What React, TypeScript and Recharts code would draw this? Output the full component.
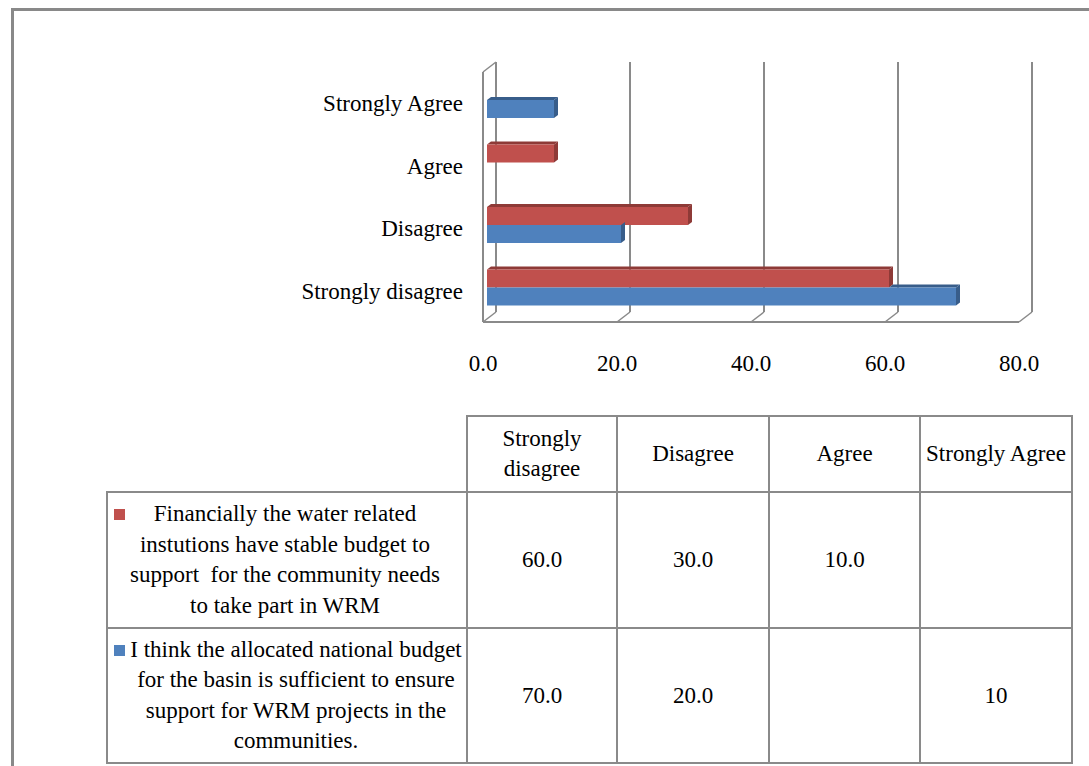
import { Bar, BarChart, CartesianGrid, XAxis, YAxis } from "recharts";

const FONT = '"Liberation Serif", "Times New Roman", serif';

// response categories, in the order of the data table
const categories = ["Strongly disagree", "Disagree", "Agree", "Strongly Agree"];

// table cells as printed; the bars are drawn from these same numbers
const stableBudget = ["60.0", "30.0", "10.0", ""];
const sufficientBudget = ["70.0", "20.0", "", "10"];

const seriesLabels = [
  [
    "Financially the water related",
    "instutions have stable budget to",
    "support  for the community needs",
    "to take part in WRM",
  ],
  [
    "I think the allocated national budget",
    "for the basin is sufficient to ensure",
    "support for WRM projects in the",
    "communities.",
  ],
];

const xTicks = [0, 20, 40, 60, 80];

const RED = "#C0504D";
const RED_DARK = "#8E3A37";
const BLUE = "#4F81BD";
const BLUE_DARK = "#385D8A";
const GRID = "#8a8a8a";

const toNum = (s: string) => (s === "" ? null : Number(s));

// top row of the chart is the last category
const chartRows = categories
  .map((category, i) => ({
    category,
    stable: toNum(stableBudget[i]),
    sufficient: toNum(sufficientBudget[i]),
  }))
  .reverse();

// depth of the fake 3D effect
const BAR_DX = 4;
const BAR_DY = 3;
const WALL_DX = 13;
const WALL_DY = 10;

function Bar3D(props: any) {
  const { x, y, width, height, fill, dark, hideTopUntil } = props;
  if (!width || width <= 0) return null;
  const fx = x + BAR_DX;
  const fy = y - BAR_DY;
  const cw = Math.min(width, hideTopUntil || 0);
  return (
    <g>
      {cw < width && (
        <polygon
          points={`${fx + cw},${fy} ${fx + cw + BAR_DX},${fy - BAR_DY} ${fx + width + BAR_DX},${fy - BAR_DY} ${fx + width},${fy}`}
          fill={dark}
        />
      )}
      <rect x={fx} y={fy} width={width} height={height} fill={fill} />
      <polygon
        points={`${fx + width},${fy} ${fx + width + BAR_DX},${fy - BAR_DY} ${fx + width + BAR_DX},${fy - BAR_DY + height} ${fx + width},${fy + height}`}
        fill={dark}
      />
    </g>
  );
}

// back wall gridline plus the floor edge under it
function WallLine(props: any) {
  const { x1, y1, y2, index } = props;
  return (
    <g key={`wall-${index}`}>
      <line x1={x1 + WALL_DX} y1={y1 - WALL_DY} x2={x1 + WALL_DX} y2={y2 - WALL_DY} stroke={GRID} strokeWidth={2} />
      <line x1={x1} y1={y2} x2={x1 + WALL_DX} y2={y2 - WALL_DY} stroke={GRID} strokeWidth={1.5} />
      {index === 0 && (
        <>
          <line x1={x1} y1={y1} x2={x1} y2={y2} stroke={GRID} strokeWidth={2} />
          <line x1={x1} y1={y1} x2={x1 + WALL_DX} y2={y1 - WALL_DY} stroke={GRID} strokeWidth={1.5} />
        </>
      )}
    </g>
  );
}

const tickStyle = { fill: "#000", fontSize: 23, fontFamily: FONT };

const cell: React.CSSProperties = {
  border: `2px solid ${GRID}`,
  padding: 0,
  textAlign: "center",
  verticalAlign: "middle",
  lineHeight: "30px",
};

const colWidths = [360, 150, 152, 151, 152];
const labelShift = [-2, 9];

export default function App() {
  const rows = [
    { values: stableBudget, color: RED },
    { values: sufficientBudget, color: BLUE },
  ];
  return (
    <div
      style={{
        position: "absolute",
        left: 0,
        top: 0,
        width: 1089,
        height: 766,
        overflow: "hidden",
        background: "#fff",
        fontFamily: FONT,
      }}
    >
      <div
        style={{
          position: "absolute",
          left: 11,
          top: 8,
          width: 1200,
          height: 900,
          borderTop: "3px solid #898989",
          borderLeft: "3px solid #898989",
        }}
      />
      <div style={{ position: "absolute", left: 0, top: 0 }}>
        <BarChart
          width={1089}
          height={400}
          data={chartRows}
          layout="vertical"
          margin={{ top: 72, right: 70, bottom: 28, left: 283 }}
          barGap={0}
          barSize={18}
        >
          <CartesianGrid horizontal={false} vertical={WallLine} />
          <XAxis
            type="number"
            domain={[0, 80]}
            ticks={xTicks}
            interval={0}
            tickFormatter={(v: number) => v.toFixed(1)}
            height={50}
            axisLine={{ stroke: GRID, strokeWidth: 2 }}
            tickLine={false}
            tickSize={0}
            tickMargin={33}
            tick={tickStyle}
          />
          <YAxis
            type="category"
            dataKey="category"
            width={200}
            interval={0}
            axisLine={false}
            tickLine={false}
            tickSize={0}
            tickMargin={20}
            tick={tickStyle}
          />
          <Bar
            dataKey="stable"
            fill={RED}
            isAnimationActive={false}
            shape={(p: any) => <Bar3D {...p} dark={RED_DARK} />}
          />
          <Bar
            dataKey="sufficient"
            fill={BLUE}
            isAnimationActive={false}
            shape={(p: any) => {
              const red = p.payload.stable || 0;
              const blue = p.payload.sufficient || 1;
              return <Bar3D {...p} dark={BLUE_DARK} hideTopUntil={(red / blue) * p.width} />;
            }}
          />
        </BarChart>
      </div>

      <table
        style={{
          position: "absolute",
          left: 106,
          top: 415,
          width: colWidths.reduce((a, b) => a + b, 0),
          borderCollapse: "collapse",
          tableLayout: "fixed",
          fontFamily: FONT,
          fontSize: 23,
          color: "#000",
        }}
      >
        <colgroup>
          {colWidths.map((w, i) => (
            <col key={i} style={{ width: w }} />
          ))}
        </colgroup>
        <tbody>
          <tr style={{ height: 76 }}>
            <td style={{ ...cell, borderTop: "none", borderLeft: "none" }} />
            {categories.map((c) => (
              <td key={c} style={cell}>
                {c}
              </td>
            ))}
          </tr>
          {rows.map((row, r) => (
            <tr key={r} style={{ height: r === 0 ? 136 : 135 }}>
              <td style={{ ...cell, lineHeight: "30.5px" }}>
                <div style={{ position: "relative" }}>
                  <span
                    style={{
                      position: "absolute",
                      left: 6,
                      top: 10,
                      width: 11,
                      height: 11,
                      background: row.color,
                    }}
                  />
                  <div style={{ transform: `translateX(${labelShift[r]}px)` }}>
                    {seriesLabels[r].map((line, i) => (
                      <div key={i} style={{ whiteSpace: "pre" }}>
                        {line}
                      </div>
                    ))}
                  </div>
                </div>
              </td>
              {row.values.map((v, i) => (
                <td key={i} style={cell}>
                  {v}
                </td>
              ))}
            </tr>
          ))}
        </tbody>
      </table>
    </div>
  );
}
